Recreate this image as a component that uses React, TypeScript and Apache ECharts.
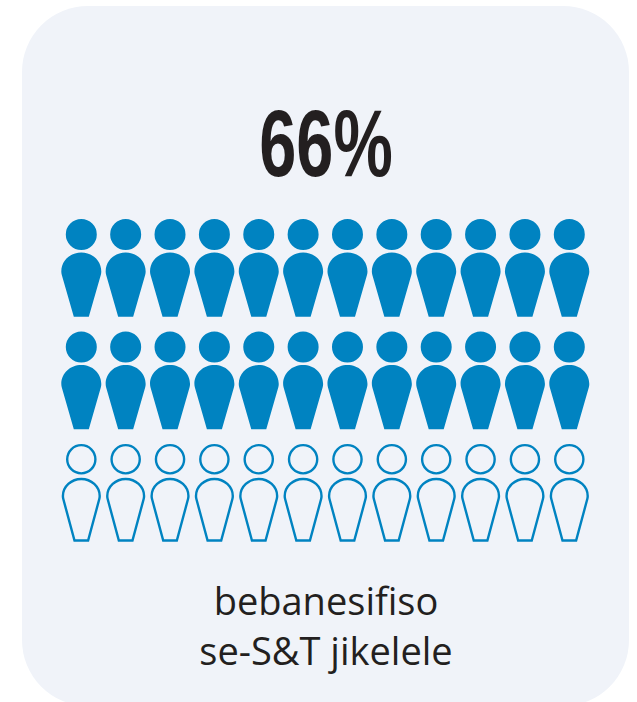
import React, { useEffect, useRef } from "react";
import * as echarts from "echarts";

const headline = "66%";
const captionLines = ["bebanesifiso", "se-S&T jikelele"];
const columns = [0, 1, 2, 3, 4, 5, 6, 7, 8, 9, 10, 11];
const filledRows = [0, 1];
const outlinedRows = [2];

const BLUE = "#0083c1";

echarts.graphic.registerShape(
  "personFilled",
  echarts.graphic.extendPath(
    "M-15.5 15.5A15.5 15.5 0 0 1 15.5 15.5A15.5 15.5 0 0 1 -15.5 15.5ZM-20 52.5C-20 41.5 -11 33.5 0 33.5C11 33.5 20 41.5 20 52.5Q20 54 19.5 56L7.5 97.7L-7.5 97.7L-19.5 56Q-20 54 -20 52.5Z",
    {}
  )
);
echarts.graphic.registerShape(
  "personOutline",
  echarts.graphic.extendPath(
    "M-14.1 15.2A14.1 14.1 0 0 1 14.1 15.2A14.1 14.1 0 0 1 -14.1 15.2ZM-18.4 52C-18.4 42.5 -10 34.9 0 34.9C10 34.9 18.4 42.5 18.4 52Q18.4 53.5 18 55L6.8 96.5L-6.8 96.5L-18 55Q-18.4 53.5 -18.4 52Z",
    {}
  )
);

const toPoints = (rows: number[]) =>
  rows.flatMap((r) => columns.map((c) => [c, r]));

const personSeries = (shape: string, style: object, rows: number[]) => ({
  type: "custom",
  coordinateSystem: "cartesian2d",
  silent: true,
  clip: false,
  encode: { x: 0, y: 1 },
  renderItem: (_params: unknown, api: any) => {
    const [x, y] = api.coord([api.value(0), api.value(1)]);
    return { type: shape, x, y: y - 48.85, style };
  },
  data: toPoints(rows),
});

export default function App() {
  const ref = useRef<HTMLDivElement>(null);
  useEffect(() => {
    document.body.style.margin = "0";
    const chart = echarts.init(ref.current!, undefined, { renderer: "svg" });
    chart.setOption({
      animation: false,
      backgroundColor: "#ffffff",
      grid: { left: 81.3, right: 67.7, top: 267.9, bottom: 209.1 },
      xAxis: { type: "value", min: 0, max: 11, show: false },
      yAxis: { type: "value", min: 0, max: 2, inverse: true, show: false },
      graphic: [
        {
          type: "rect",
          z: -10,
          silent: true,
          shape: { x: 22, y: 6, width: 607, height: 700, r: 66 },
          style: { fill: "#f0f3f9" },
        },
        {
          type: "text",
          x: 326,
          y: 143,
          scaleX: 0.71,
          style: {
            text: headline,
            fill: "#231f20",
            font: 'bold 94px "Liberation Sans", sans-serif',
            align: "center",
            verticalAlign: "middle",
          },
        },
        {
          type: "text",
          x: 326,
          y: 600,
          style: {
            text: captionLines[0],
            fill: "#231f20",
            font: '38px "Open Sans", sans-serif',
            align: "center",
            verticalAlign: "middle",
          },
        },
        {
          type: "text",
          x: 326,
          y: 650,
          style: {
            text: captionLines[1],
            fill: "#231f20",
            font: '38px "Open Sans", sans-serif',
            align: "center",
            verticalAlign: "middle",
          },
        },
      ],
      series: [
        personSeries("personFilled", { fill: BLUE }, filledRows),
        personSeries(
          "personOutline",
          { fill: "none", stroke: BLUE, lineWidth: 2.4, lineJoin: "miter" },
          outlinedRows
        ),
      ],
    });
    return () => chart.dispose();
  }, []);
  return <div ref={ref} style={{ width: 637, height: 702 }} />;
}
